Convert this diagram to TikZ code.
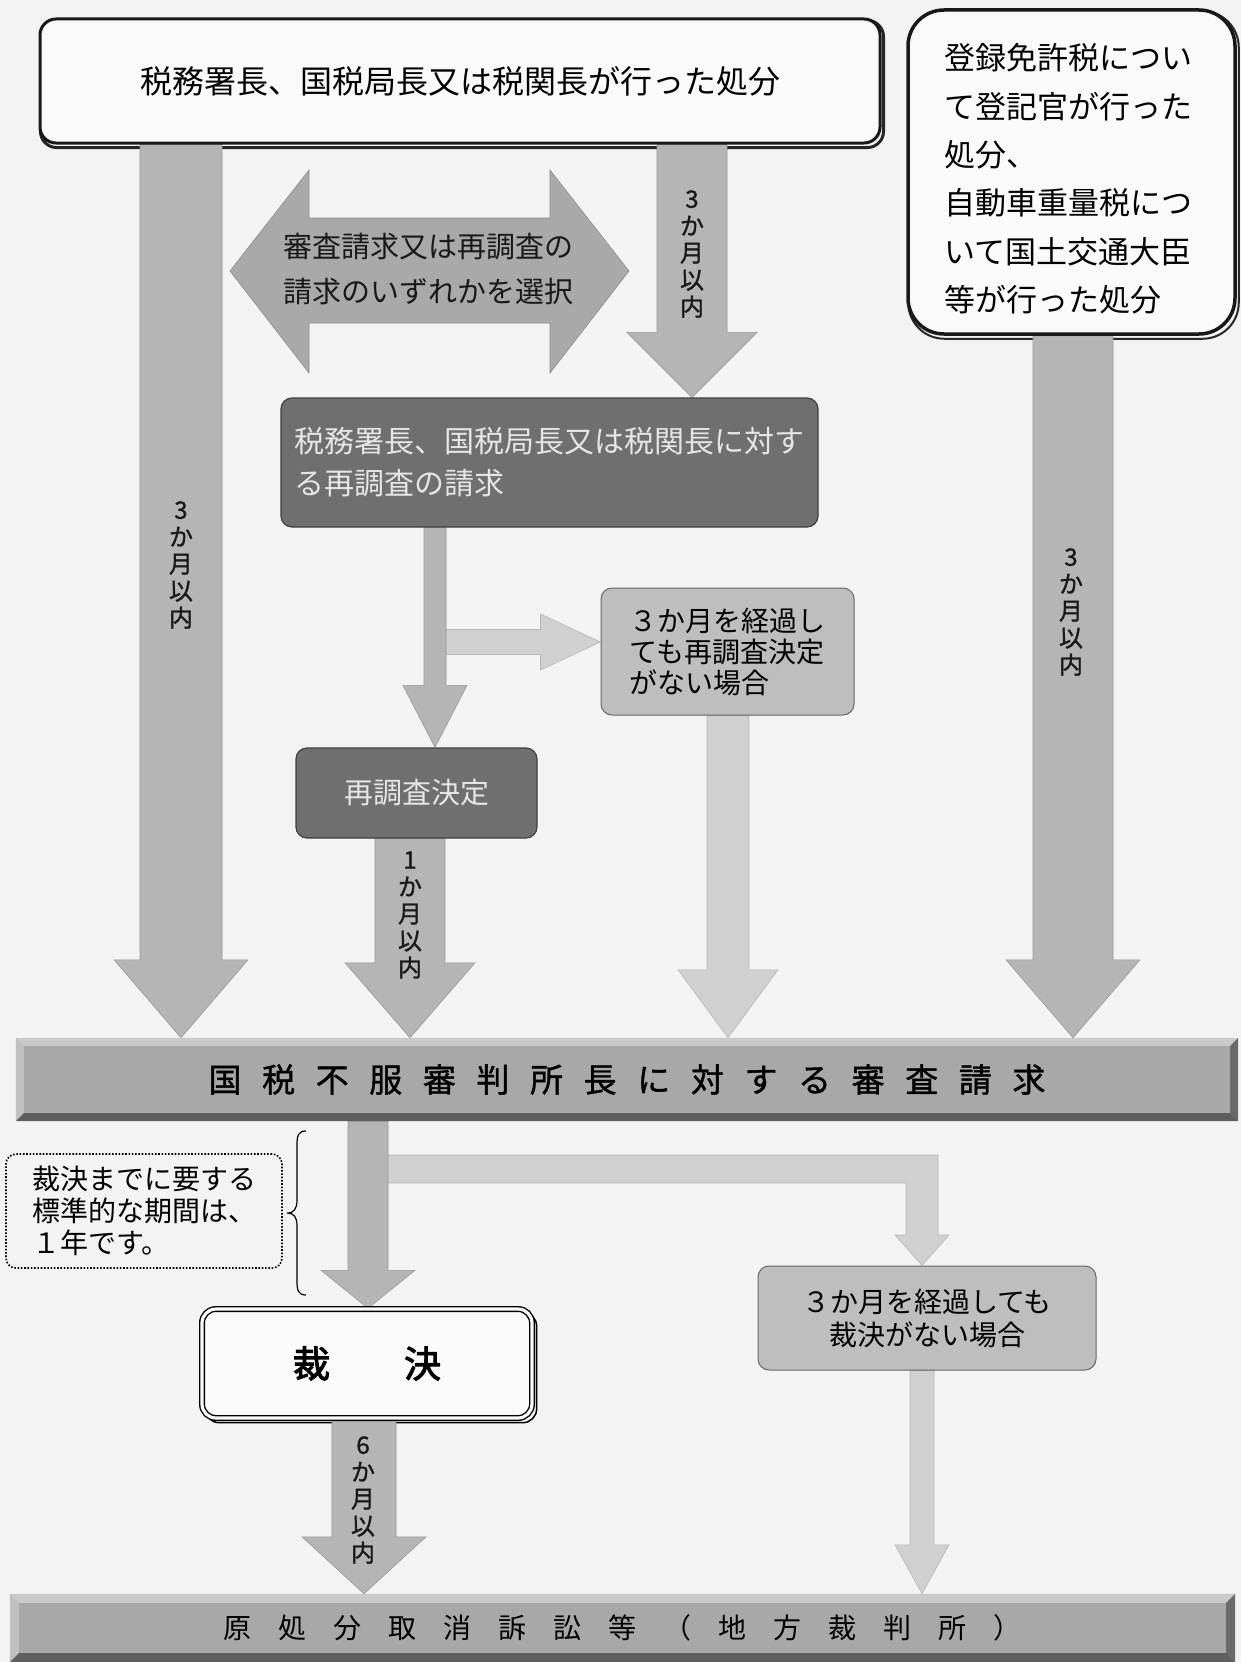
\documentclass[tikz,border=0pt]{standalone}
\usepackage{fontspec}
\newfontfamily\jp{Noto Sans CJK JP}
\newfontfamily\jpbold[FakeBold=2.5]{Noto Sans CJK JP}
\newfontfamily\jpmed[FakeBold=1.2]{Noto Sans CJK JP}
\usetikzlibrary{calc}
\pgfdeclarelayer{backlayer}
\pgfdeclarelayer{arrowlayer}
\pgfsetlayers{backlayer,arrowlayer,main}
\definecolor{paper}{HTML}{F3F3F3}
\definecolor{midA}{HTML}{B5B5B5}
\definecolor{midAe}{HTML}{989898}
\definecolor{lightA}{HTML}{D0D0D0}
\definecolor{lightAe}{HTML}{B6B6B6}
\definecolor{dblA}{HTML}{A9A9A9}
\definecolor{darkboxc}{HTML}{6F6F6F}
\definecolor{lightboxc}{HTML}{BEBEBE}
\definecolor{face}{HTML}{A8A8A8}
\definecolor{bevL}{HTML}{CACACA}
\definecolor{bevD}{HTML}{5E5E5E}
\definecolor{bevR}{HTML}{6A6A6A}

\newcommand\blockdown[6]{%
 \path[#1] ($(#2)+(-#4,0)$) -- ($(#2)+(#4,0)$) -- ($(#3)+(#4,-#6)$) -- ($(#3)+(#5,-#6)$) -- (#3) -- ($(#3)+(-#5,-#6)$) -- ($(#3)+(-#4,-#6)$) -- cycle;}
\newcommand\bevelize[2]{%
 \fill[bevL] (#1.north west) -- (#1.north east) -- ($(#1.north east)+(-#2,#2)$) -- ($(#1.north west)+(#2,#2)$) -- cycle;
 \fill[bevL!70!face] (#1.north west) -- ($(#1.north west)+(#2,#2)$) -- ($(#1.south west)+(#2,-#2)$) -- (#1.south west) -- cycle;
 \fill[bevR] (#1.north east) -- (#1.south east) -- ($(#1.south east)+(-#2,-#2)$) -- ($(#1.north east)+(-#2,#2)$) -- cycle;
 \fill[bevD] (#1.south west) -- (#1.south east) -- ($(#1.south east)+(-#2,-#2)$) -- ($(#1.south west)+(#2,-#2)$) -- cycle;}
\newcommand\gapB{\hspace{20.6pt}}
\newcommand\gapC{\hspace{27pt}}

\tikzset{
 topstyle/.style={draw=black!90, line width=3, rounded corners=16, fill=white!98!black, inner sep=0, font=\jp\fontsize{32}{36}\selectfont},
 rstyle/.style={draw=black!90, line width=3.5, rounded corners=36, fill=white!98!black, inner sep=0},
 rtextstyle/.style={inner sep=0, align=left, font=\jp\fontsize{31}{48.4}\selectfont},
 dkstyle/.style={draw=black!75, line width=1.2, rounded corners=11, fill=darkboxc, text=white!90!black, inner sep=0},
 lbstyle/.style={draw=black!60, line width=1, rounded corners=11, fill=lightboxc, inner sep=0},
 bannerstyle/.style={fill=face, inner sep=0},
 notestyle/.style={draw=black, dash pattern=on 1.6pt off 1.7pt, line width=1.6, rounded corners=10, inner sep=0, align=left, font=\jp\fontsize{28}{32}\selectfont},
 skstyle/.style={draw=black, line width=1.4, double=white!98!black, double distance=3.2, rounded corners=14, fill=white!98!black, inner sep=0, font=\jpbold\fontsize{37}{40}\selectfont},
 midarrow/.style={fill=midA, draw=midAe, line width=0.6},
 lightarrow/.style={fill=lightA, draw=lightAe, line width=0.6},
 dblarrow/.style={fill=dblA, draw=black!45, line width=0.6},
 vlab/.style={font=\jpmed\fontsize{24}{27}\selectfont, align=center, inner sep=0, text=black!90}
}

\begin{document}
\begin{tikzpicture}[x=1pt,y=-1pt]
\begin{pgfonlayer}{backlayer}
 \fill[paper] (0,0) rectangle (1241,1662);
\end{pgfonlayer}
\useasboundingbox (0,0) rectangle (1241,1662);

% ---------- nodes ----------
\node[topstyle, minimum width=840, minimum height=124] (top) at (460,81) {税務署長、国税局長又は税関長が行った処分};
\node[rstyle, minimum width=327, minimum height=324] (rbox) at (1071.5,172) {};
\node[rtextstyle] (rtext) at (1068,179) {登録免許税につい\\て登記官が行った\\処分、\\自動車重量税につ\\いて国土交通大臣\\等が行った処分};

\node[inner sep=0, align=center, font=\jp\fontsize{29}{45}\selectfont, text=black!90] (choice) at (428,269) {審査請求又は再調査の\\請求のいずれかを選択};

\node[dkstyle, minimum width=537, minimum height=129, align=left, font=\jp\fontsize{30}{42}\selectfont] (dk) at (549.5,462.5) {税務署長、国税局長又は税関長に対す\\る再調査の請求};

\node[lbstyle, minimum width=253, minimum height=127, align=left, font=\jp\fontsize{28}{31}\selectfont] (lb1) at (727.5,651.5) {３か月を経過し\\ても再調査決定\\がない場合};

\node[dkstyle, minimum width=241, minimum height=90, font=\jp\fontsize{29}{32}\selectfont] (rcd) at (416.5,793) {再調査決定};

\node[bannerstyle, minimum width=1222, minimum height=83, font=\jpmed\fontsize{33}{36}\selectfont] (b1) at (627,1079.5) {国\gapB 税\gapB 不\gapB 服\gapB 審\gapB 判\gapB 所\gapB 長\gapB に\gapB 対\gapB す\gapB る\gapB 審\gapB 査\gapB 請\gapB 求};
\bevelize{b1}{8}

\node[notestyle, minimum width=276, minimum height=114] (note) at (144,1211) {裁決までに要する\\標準的な期間は、\\１年です。};

\node[lbstyle, minimum width=338, minimum height=104, align=center, font=\jp\fontsize{28}{33}\selectfont] (lb2) at (927,1318) {３か月を経過しても\\裁決がない場合};

\node[skstyle, minimum width=330, minimum height=109] (sk) at (367,1363.5) {裁　　決};

\node[bannerstyle, minimum width=1225, minimum height=68, font=\jp\fontsize{28}{32}\selectfont] (b2) at (622.5,1628) {原\gapC 処\gapC 分\gapC 取\gapC 消\gapC 訴\gapC 訟\gapC 等\gapC （\gapC 地\gapC 方\gapC 裁\gapC 判\gapC 所\gapC ）};
\bevelize{b2}{9}

% brace
\draw[line width=1.2] (306,1131) .. controls (298,1131) and (297,1136) .. (297,1145) -- (297,1200) .. controls (297,1209) and (294,1213) .. (287,1213) .. controls (294,1213) and (297,1217) .. (297,1226) -- (297,1281) .. controls (297,1290) and (298,1295) .. (306,1295);

% ---------- arrows ----------
\coordinate (aLs) at (181,0 |- top.south);
\coordinate (aLt) at (181,0 |- b1.north);
\coordinate (a3s) at (692,0 |- top.south);
\coordinate (a3t) at (692,0 |- dk.north);
\coordinate (aRs) at (1073,0 |- rbox.south);
\coordinate (aRt) at (1073,0 |- b1.north);
\coordinate (dks) at (435,0 |- dk.south);
\coordinate (dkt) at (435,0 |- rcd.north);
\coordinate (hS) at (440,642);
\coordinate (hT) at (lb1.west |- 0,642);
\coordinate (l1s) at (728,0 |- lb1.south);
\coordinate (l1t) at (728,0 |- b1.north);
\coordinate (rcs) at (410,0 |- rcd.south);
\coordinate (rct) at (410,0 |- b1.north);
\coordinate (b1s) at (368,0 |- b1.south);
\coordinate (b1t) at (368,0 |- sk.north);
\coordinate (brT) at (922,0 |- lb2.north);
\coordinate (l2s) at (922,0 |- lb2.south);
\coordinate (l2t) at (922,0 |- b2.north);
\coordinate (sks) at (364,0 |- sk.south);
\coordinate (skt) at (364,0 |- b2.north);

\begin{pgfonlayer}{arrowlayer}
 % shadows
 \draw[black!85, line width=3, rounded corners=16] ($(top.south west)+(2,3)$) rectangle ($(top.north east)+(2,3)$);
 \draw[black!85, line width=2, rounded corners=36] ($(rbox.south west)+(2,3)$) rectangle ($(rbox.north east)+(2,3)$);
 \draw[black, line width=1.5, rounded corners=14] ($(sk.south west)+(4,4)$) rectangle ($(sk.north east)+(4,4)$);
 % double-headed choice arrow
 \path[dblarrow] (230,271) -- (309,170) -- (309,218) -- (550,218) -- (550,170) -- (629,271) -- (550,373) -- (550,323) -- (309,323) -- (309,373) -- cycle;
 % long arrows
 \blockdown{midarrow}{aLs}{aLt}{41}{67}{78}
 \blockdown{midarrow}{a3s}{a3t}{35}{65}{65}
 \blockdown{midarrow}{aRs}{aRt}{40}{67}{78}
 % horizontal light arrow to lb1
 \path[lightarrow] ($(hS)+(0,-12.5)$) -- ($(hT)+(-60,-12.5)$) -- ($(hT)+(-60,-28)$) -- (hT) -- ($(hT)+(-60,28)$) -- ($(hT)+(-60,12.5)$) -- ($(hS)+(0,12.5)$) -- cycle;
 \blockdown{midarrow}{dks}{dkt}{11}{32}{62}
 \blockdown{lightarrow}{l1s}{l1t}{21}{50}{68}
 \blockdown{midarrow}{rcs}{rct}{35}{65}{75}
 % branch from b1 to lb2
 \path[lightarrow] (380,1155) -- (938,1155) -- (938,1235) -- (949,1235) -- (brT) -- (895,1235) -- (906,1235) -- (906,1183) -- (380,1183) -- cycle;
 \blockdown{midarrow}{b1s}{b1t}{20}{47}{38}
 \blockdown{lightarrow}{l2s}{l2t}{12}{27}{49}
 \blockdown{midarrow}{sks}{skt}{32}{62}{57}
\end{pgfonlayer}

% ---------- arrow labels ----------
\node[vlab] (labL) at (181,565) {3\\か\\月\\以\\内};
\node[vlab] (lab3) at (692,254) {3\\か\\月\\以\\内};
\node[vlab] (labR) at (1071,612) {3\\か\\月\\以\\内};
\node[vlab] (labRcd) at (410,915) {1\\か\\月\\以\\内};
\node[vlab] (labSk) at (363,1500) {6\\か\\月\\以\\内};
\end{tikzpicture}
\end{document}
